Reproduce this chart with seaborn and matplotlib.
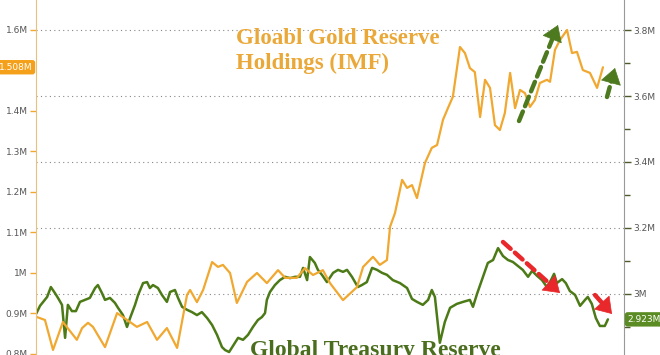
import numpy as np
import pandas as pd
import seaborn as sns
import matplotlib.pyplot as plt
from matplotlib.ticker import FixedLocator, NullLocator

# gold reserve holdings (IMF), left axis, millions
gold_year = [2000.00, 2000.29, 2000.55, 2000.87, 2001.32, 2001.49, 2001.68, 2001.84,
             2002.23, 2002.62, 2002.94, 2003.26, 2003.59, 2003.91, 2004.23, 2004.56,
             2004.88, 2004.98, 2005.20, 2005.40, 2005.69, 2005.88, 2006.04, 2006.27,
             2006.49, 2006.82, 2007.14, 2007.46, 2007.82, 2008.05, 2008.43, 2008.69,
             2008.95, 2009.27, 2009.50, 2009.92, 2010.37, 2010.57, 2010.89, 2011.11,
             2011.34, 2011.44, 2011.60, 2011.83, 2011.99, 2012.15, 2012.31, 2012.57,
             2012.79, 2012.96, 2013.15, 2013.31, 2013.47, 2013.70, 2013.86, 2014.02,
             2014.18, 2014.35, 2014.51, 2014.67, 2014.83, 2014.99, 2015.15, 2015.32,
             2015.48, 2015.64, 2015.80, 2015.96, 2016.12, 2016.28, 2016.51, 2016.61,
             2016.77, 2016.93, 2017.16, 2017.32, 2017.48, 2017.67, 2017.90, 2018.13,
             2018.32]
gold_val = [0.892, 0.884, 0.810, 0.879, 0.835, 0.864, 0.877, 0.867,
            0.817, 0.901, 0.884, 0.867, 0.879, 0.835, 0.864, 0.815,
            0.946, 0.958, 0.928, 0.958, 1.027, 1.015, 1.020, 1.000,
            0.926, 0.978, 1.000, 0.975, 1.007, 0.988, 0.988, 1.012,
            0.995, 1.007, 0.975, 0.933, 0.965, 1.015, 1.040, 1.020,
            1.032, 1.114, 1.148, 1.230, 1.210, 1.217, 1.185, 1.272,
            1.309, 1.316, 1.378, 1.407, 1.435, 1.558, 1.543, 1.506,
            1.496, 1.385, 1.477, 1.457, 1.365, 1.353, 1.395, 1.494,
            1.407, 1.452, 1.444, 1.410, 1.427, 1.469, 1.477, 1.472,
            1.551, 1.575, 1.600, 1.543, 1.546, 1.501, 1.494, 1.457,
            1.508]

# global treasury reserve, right axis, millions
treas_year = [2000.00, 2000.13, 2000.26, 2000.36, 2000.48, 2000.61, 2000.71, 2000.84,
              2000.94, 2001.03, 2001.16, 2001.29, 2001.42, 2001.58, 2001.74, 2001.91,
              2002.00, 2002.13, 2002.23, 2002.39, 2002.55, 2002.65, 2002.81, 2002.94,
              2003.04, 2003.20, 2003.30, 2003.46, 2003.59, 2003.68, 2003.78, 2003.94,
              2004.07, 2004.23, 2004.33, 2004.49, 2004.59, 2004.72, 2004.88, 2005.04,
              2005.20, 2005.36, 2005.53, 2005.69, 2005.85, 2006.01, 2006.11, 2006.24,
              2006.40, 2006.53, 2006.69, 2006.85, 2007.01, 2007.17, 2007.30, 2007.40,
              2007.46, 2007.56, 2007.72, 2007.88, 2008.05, 2008.21, 2008.37, 2008.53,
              2008.63, 2008.76, 2008.85, 2009.01, 2009.11, 2009.24, 2009.40, 2009.60,
              2009.76, 2009.92, 2010.05, 2010.21, 2010.31, 2010.40, 2010.53, 2010.69,
              2010.86, 2011.02, 2011.18, 2011.34, 2011.53, 2011.76, 2011.99, 2012.15,
              2012.31, 2012.50, 2012.67, 2012.79, 2012.89, 2013.05, 2013.21, 2013.38,
              2013.60, 2013.80, 2014.02, 2014.12, 2014.25, 2014.35, 2014.44, 2014.60,
              2014.77, 2014.93, 2015.09, 2015.25, 2015.41, 2015.57, 2015.73, 2015.90,
              2016.03, 2016.19, 2016.35, 2016.51, 2016.64, 2016.74, 2016.83, 2017.00,
              2017.12, 2017.25, 2017.42, 2017.58, 2017.74, 2017.83, 2017.96, 2018.09,
              2018.22, 2018.38, 2018.48]
treas_val = [2.939, 2.964, 2.979, 2.991, 3.021, 3.003, 2.988, 2.967,
             2.867, 2.967, 2.948, 2.948, 2.976, 2.982, 2.988, 3.018,
             3.027, 3.003, 2.982, 2.988, 2.973, 2.958, 2.936, 2.900,
             2.927, 2.967, 2.997, 3.033, 3.036, 3.018, 3.027, 3.018,
             2.997, 2.976, 3.006, 3.012, 2.988, 2.961, 2.952, 2.945,
             2.936, 2.945, 2.927, 2.906, 2.876, 2.839, 2.830, 2.824,
             2.848, 2.867, 2.861, 2.876, 2.900, 2.921, 2.930, 2.942,
             2.982, 3.006, 3.027, 3.042, 3.052, 3.048, 3.052, 3.052,
             3.079, 3.042, 3.112, 3.094, 3.073, 3.058, 3.036, 3.064,
             3.073, 3.067, 3.073, 3.052, 3.036, 3.021, 3.027, 3.036,
             3.079, 3.073, 3.064, 3.058, 3.042, 3.033, 3.018, 2.985,
             2.976, 2.967, 2.982, 3.012, 2.991, 2.852, 2.915, 2.958,
             2.970, 2.976, 2.982, 2.961, 3.000, 3.027, 3.052, 3.094,
             3.103, 3.139, 3.115, 3.103, 3.097, 3.085, 3.073, 3.052,
             3.070, 3.055, 3.042, 3.021, 3.042, 3.061, 3.033, 3.045,
             3.033, 3.009, 2.997, 2.964, 2.982, 2.991, 2.970, 2.927,
             2.903, 2.903, 2.923]

left_ticks = [0.8, 0.9, 1.0, 1.1, 1.2, 1.3, 1.4, 1.6]
left_labels = ['0.8M', '0.9M', '1M', '1.1M', '1.2M', '1.3M', '1.4M', '1.6M']
right_ticks = [3.0, 3.2, 3.4, 3.6, 3.8]
right_labels = ['3M', '3.2M', '3.4M', '3.6M', '3.8M']
right_minor = [2.9, 3.1, 3.3, 3.5, 3.7]

GOLD = '#f0a830'
GREEN = '#4c7a16'
RED = '#e8282b'
DGREEN = '#4e7a1f'

sns.set_style('white')
plt.rcParams['font.family'] = ['DejaVu Sans']

gold = pd.DataFrame({'year': gold_year, 'val': gold_val})
treas = pd.DataFrame({'year': treas_year, 'val': treas_val})

fig = plt.figure(figsize=(6.6, 3.55), dpi=100)
ax = fig.add_axes([36 / 660, 0, 588 / 660, 1])
ax2 = ax.twinx()
ax.set_zorder(ax2.get_zorder() + 1)
ax.patch.set_visible(False)

sns.lineplot(data=treas, x='year', y='val', ax=ax2, color=GREEN, lw=1.8)
sns.lineplot(data=gold, x='year', y='val', ax=ax, color=GOLD, lw=1.6)

ax.set_xlim(2000, 2019)
ax.set_ylim(0.7975, 1.674)
ax2.set_ylim(2.815, 3.891)
for a in (ax, ax2):
    a.set_xlabel('')
    a.set_ylabel('')
    for s in ('top', 'bottom'):
        a.spines[s].set_visible(False)
    a.tick_params(axis='x', which='both', bottom=False, top=False,
                  labelbottom=False, labeltop=False)

ax.xaxis.set_major_locator(FixedLocator(np.arange(2000.5, 2019, 0.5)))

# left axis (gold)
ax.yaxis.set_ticks_position('left')
ax.set_yticks(left_ticks)
ax.set_yticklabels(left_labels)
ax.yaxis.set_minor_locator(NullLocator())
ax.tick_params(axis='y', direction='out', length=4, width=1, color=GOLD,
               labelsize=6.5, labelcolor='#555555', pad=2, right=False)
ax.spines['left'].set_color('#e8c080')
ax.spines['right'].set_visible(False)

# right axis (treasury)
ax2.yaxis.set_ticks_position('right')
ax2.set_yticks(right_ticks)
ax2.set_yticklabels(right_labels)
ax2.yaxis.set_minor_locator(FixedLocator(right_minor))
ax2.tick_params(axis='y', which='major', direction='out', length=5, width=1,
                color='#4d5a2a', labelsize=6.5, labelcolor='#555555', pad=2,
                left=False)
ax2.tick_params(axis='y', which='minor', direction='out', length=4, width=1,
                color='#4d5a2a', left=False)
ax2.spines['right'].set_color('#999999')
ax2.spines['left'].set_visible(False)

# dotted grid: vertical every half year, horizontal on the right-axis ticks
ax2.xaxis.set_major_locator(FixedLocator(np.arange(2000.5, 2019, 0.5)))
ax2.grid(True, which='major', ls=(0, (1, 3)), color='#888888', lw=0.8)

# last-value tags
ax.text(-0.006, 1.508, '1.508M', transform=ax.get_yaxis_transform(), ha='right',
        va='center', fontsize=6.5, color='white',
        bbox=dict(boxstyle='round,pad=0.3', fc='#f5a01a', ec='none'))
ax2.text(1.006, 2.923, '2.923M', transform=ax2.get_yaxis_transform(), ha='left',
         va='center', fontsize=6.5, color='white',
         bbox=dict(boxstyle='round,pad=0.3', fc='#5b8c23', ec='none'))

# titles on the chart
serif = ['Liberation Serif', 'DejaVu Serif']
ax.text(0.340, 0.875, 'Gloabl Gold Reserve', transform=ax.transAxes,
        family=serif, fontsize=16.5, fontweight='bold', color='#eaa838', va='baseline')
ax.text(0.340, 0.805, 'Holdings (IMF)', transform=ax.transAxes,
        family=serif, fontsize=16.5, fontweight='bold', color='#eaa838', va='baseline')
ax.text(0.364, -0.004, 'Global Treasury Reserve', transform=ax.transAxes,
        family=serif, fontsize=17, fontweight='bold', color='#4b6e1e',
        va='baseline', clip_on=False)


def frac(px, py):
    return ((px - 36) / 588, 1 - py / 355)


# dashed shaft + solid head
def dashed_arrow(tail, tip, color):
    t = np.array(frac(*tail))
    h = np.array(frac(*tip))
    back = h + (t - h) * (12 / np.hypot(tip[0] - tail[0], tip[1] - tail[1]))
    ax.annotate('', xy=tuple(back), xytext=tuple(t), xycoords='axes fraction',
                textcoords='axes fraction',
                arrowprops=dict(arrowstyle='-', lw=3.2, ls=(0, (2.3, 1.3)),
                                color=color, shrinkA=0, shrinkB=0))
    ax.annotate('', xy=tuple(h), xytext=tuple(back), xycoords='axes fraction',
                textcoords='axes fraction',
                arrowprops=dict(arrowstyle='-|>,head_length=0.75,head_width=0.5',
                                lw=0.5, color=color, mutation_scale=14,
                                shrinkA=0, shrinkB=0))


dashed_arrow((519, 121), (558, 25), DGREEN)
dashed_arrow((607, 97), (615, 68), DGREEN)
dashed_arrow((503, 242), (560, 293), RED)
dashed_arrow((595, 295), (612, 314), RED)

fig.savefig('out.png', dpi=100, facecolor='white')
